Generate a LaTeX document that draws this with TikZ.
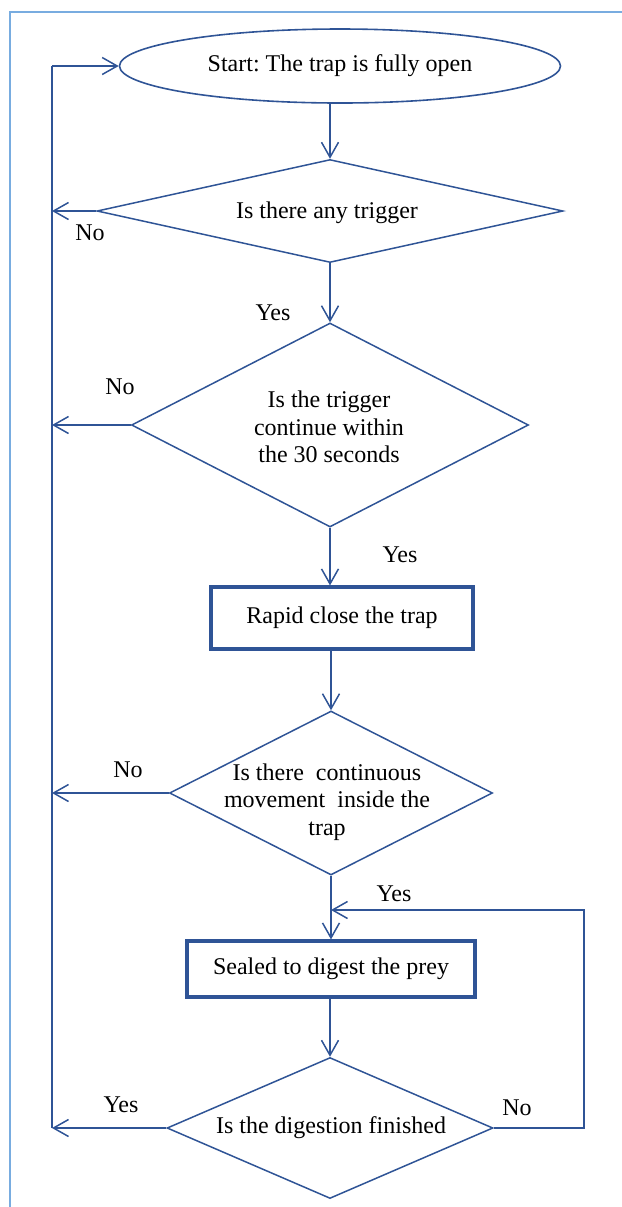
\documentclass[tikz,border=0pt]{standalone}
\usepackage{fontspec}
\setmainfont{Liberation Serif}
\usetikzlibrary{arrows.meta, shapes.geometric}

\definecolor{flowblue}{RGB}{47,84,150}
\definecolor{pageframe}{RGB}{120,172,224}

\frenchspacing

\begin{document}
\begin{tikzpicture}[
    x=0.5pt, y=-0.5pt,
    font=\fontsize{12}{13.8}\selectfont,
    startnode/.style={ellipse, draw=flowblue, line width=0.8pt, minimum width=220.5pt, minimum height=37pt, inner sep=0pt},
    decision/.style={diamond, draw=flowblue, line width=0.75pt, inner sep=0pt},
    process/.style={rectangle, draw=flowblue, line width=1.6pt, inner sep=0pt},
    txt/.style={align=center, inner sep=0pt},
    answer/.style={inner sep=0pt},
    flow/.style={draw=flowblue, line width=0.75pt},
    arrow/.style={flow, -{Straight Barb[length=7.5pt, width=8.5pt]}}
]

\useasboundingbox (0,0) rectangle (622,1207);

% Page frame
\draw[pageframe, line width=0.6pt] (10,1207) -- (10,12) -- (622,12);

%==============================================================================
% Start and first check
%==============================================================================
\node[startnode] (start) at (340,66) {Start: The trap is fully open};

\node[decision, minimum width=233pt, minimum height=51.5pt] (d1) at (330,211) {};
\node[txt] (d1t) at (327,213) {Is there any trigger};

\node[decision, minimum width=198.5pt, minimum height=102pt] (d2) at (330,425) {};
\node[txt] (d2t) at (329,427) {Is the trigger\\continue within\\the 30 seconds};

%==============================================================================
% Closing the trap
%==============================================================================
\node[process, minimum width=131pt, minimum height=31pt] (r1) at (342,618) {Rapid close the trap};

\node[decision, minimum width=161.5pt, minimum height=82pt] (d3) at (331,793) {};
\node[txt] (d3t) at (327,802) {Is there\ \ continuous\\movement\ \ inside the\\trap};

%==============================================================================
% Digestion
%==============================================================================
\node[process, minimum width=144pt, minimum height=28pt] (r2) at (331,969) {Sealed to digest the prey};

\node[decision, minimum width=163pt, minimum height=70.5pt] (d4) at (330,1128) {};
\node[txt] (d4t) at (331,1128) {Is the digestion finished};

% Loop coordinates
\coordinate (looptop) at (52,66);
\coordinate (loopbot) at (52,1128);
\coordinate (rloop) at (584,910);

%==============================================================================
% Connectors
%==============================================================================
\draw[flow] (loopbot) -- (looptop);
\draw[arrow] (looptop) -- (start.west);

\draw[arrow] (d1.north |- start.south) -- (d1.north);
\draw[arrow] (d1.south) -- (d2.north);
\draw[arrow] (d2.south) -- (d2.south |- r1.north);
\draw[arrow] (d3.north |- r1.south) -- (d3.north);
\draw[arrow] (d3.south) -- (r2.north);
\draw[arrow] (d4.north |- r2.south) -- (d4.north);

% Back to the start
\draw[arrow] (d1.west) -- (d1.west -| looptop);
\draw[arrow] (d2.west) -- (d2.west -| looptop);
\draw[arrow] (d3.west) -- (d3.west -| looptop);
\draw[arrow] (d4.west) -- (loopbot);

% Keep digesting
\draw[arrow] (d4.east) -- (d4.east -| rloop) -- (rloop) -- (rloop -| d3.south);

% Answers
\node[answer] (no1) at (90,233) {No};
\node[answer] (yes1) at (273,313) {Yes};
\node[answer] (no2) at (120,387) {No};
\node[answer] (yes2) at (400,555) {Yes};
\node[answer] (no3) at (128,770) {No};
\node[answer] (yes3) at (394,894) {Yes};
\node[answer] (yes4) at (121,1105) {Yes};
\node[answer] (no4) at (517,1108) {No};

\end{tikzpicture}
\end{document}
